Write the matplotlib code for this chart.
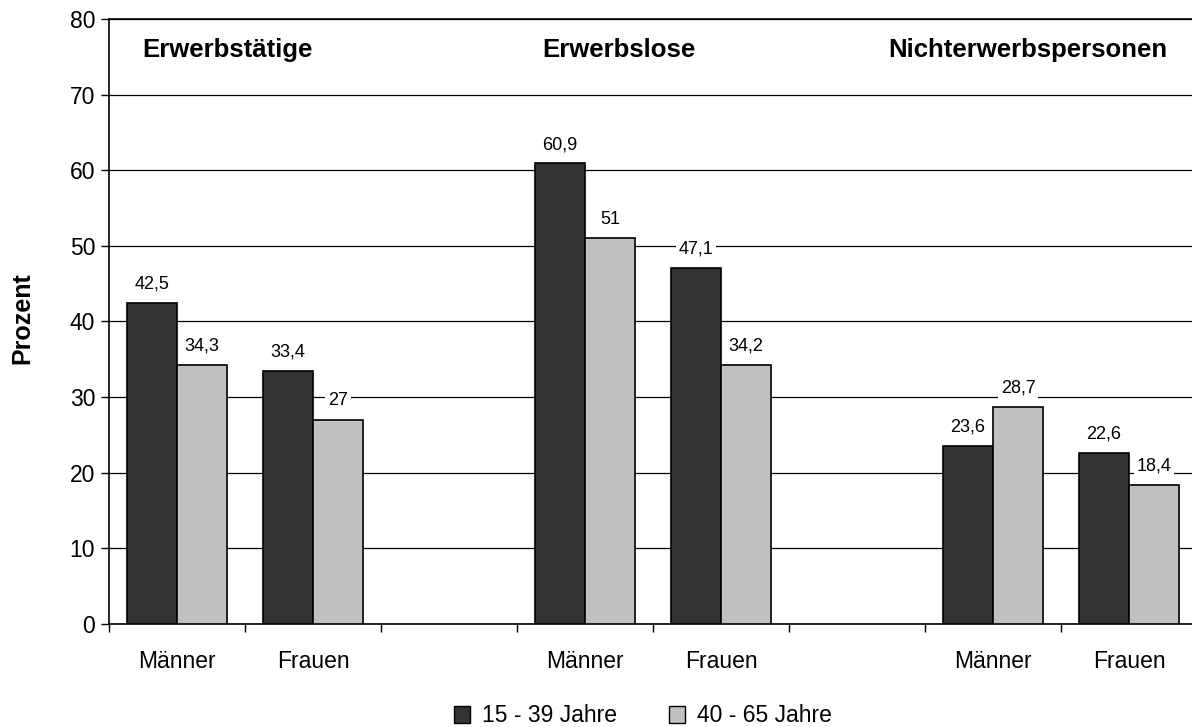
import matplotlib
matplotlib.use("Agg")
import matplotlib.pyplot as plt
from matplotlib.patches import Patch
import numpy as np

plt.rcParams['font.family'] = ['Liberation Sans', 'DejaVu Sans']

slot_labels = ["Männer", "Frauen", "", "Männer", "Frauen", "", "Männer", "Frauen"]
group_titles = ["Erwerbstätige", "Erwerbslose", "Nichterwerbspersonen"]
series_names = ["15 - 39 Jahre", "40 - 65 Jahre"]
young = [42.5, 33.4, None, 60.9, 47.1, None, 23.6, 22.6]
old = [34.3, 27.0, None, 51.0, 34.2, None, 28.7, 18.4]
yticks = [0, 10, 20, 30, 40, 50, 60, 70, 80]

dark = "#333333"
light = "#c0c0c0"

W, H = 1192, 727
fig = plt.figure(figsize=(W / 100, H / 100), dpi=100)
ax = fig.add_axes([109 / W, (H - 624) / H, 1088 / W, 605 / H])

bw = 50 / 136
for i, (a, b) in enumerate(zip(young, old)):
    if a is None:
        continue
    for val, off, col in [(a, -bw / 2, dark), (b, bw / 2, light)]:
        ax.bar(i + off, val, width=bw, color=col, edgecolor="black", linewidth=1.2, zorder=3)
        lab = ("%g" % val).replace(".", ",")
        ax.annotate(lab, (i + off, val), xytext=(0, 7.5), textcoords="offset points",
                    ha="center", va="bottom", fontsize=13, zorder=5,
                    bbox=dict(boxstyle="square,pad=0.15", fc="white", ec="none"))

ax.set_xlim(-0.5, 7.5)
ax.set_ylim(0, 80)
ax.set_yticks(yticks)
ax.tick_params(axis="y", labelsize=16.5, length=6, width=1, direction="out", pad=4)
ax.yaxis.grid(True, color="black", linewidth=0.9, zorder=0)
ax.set_axisbelow(True)

ax.set_xticks(np.arange(-0.5, 8, 1))
ax.set_xticklabels([])
ax.tick_params(axis="x", which="major", length=6, width=1, direction="out")
ax.set_xticks([i for i, l in enumerate(slot_labels) if l], minor=True)
ax.set_xticklabels([l for l in slot_labels if l], minor=True)
ax.tick_params(axis="x", which="minor", length=0, labelsize=16.5, pad=19)

for s in ["left", "top", "bottom"]:
    ax.spines[s].set_color("black")
    ax.spines[s].set_linewidth(1.2)
ax.spines["right"].set_visible(False)

for x, t in zip([-0.257, 2.684, 5.228], group_titles):
    ax.text(x, 75.9, t, ha="left", va="center", fontsize=18.5, fontweight="bold")

fig.text(22 / W, 1 - 318 / H, "Prozent", rotation=90, ha="center", va="center",
         fontsize=18, fontweight="bold")

handles = [Patch(facecolor=dark, edgecolor="black", linewidth=1),
           Patch(facecolor=light, edgecolor="black", linewidth=1)]
fig.legend(handles, series_names, loc="center", bbox_to_anchor=(643 / W, 1 - 716 / H),
           ncol=2, frameon=False, fontsize=16.5, handlelength=0.7, handleheight=0.7,
           handletextpad=0.5, columnspacing=2.3)

fig.savefig("out.png", dpi=100)
